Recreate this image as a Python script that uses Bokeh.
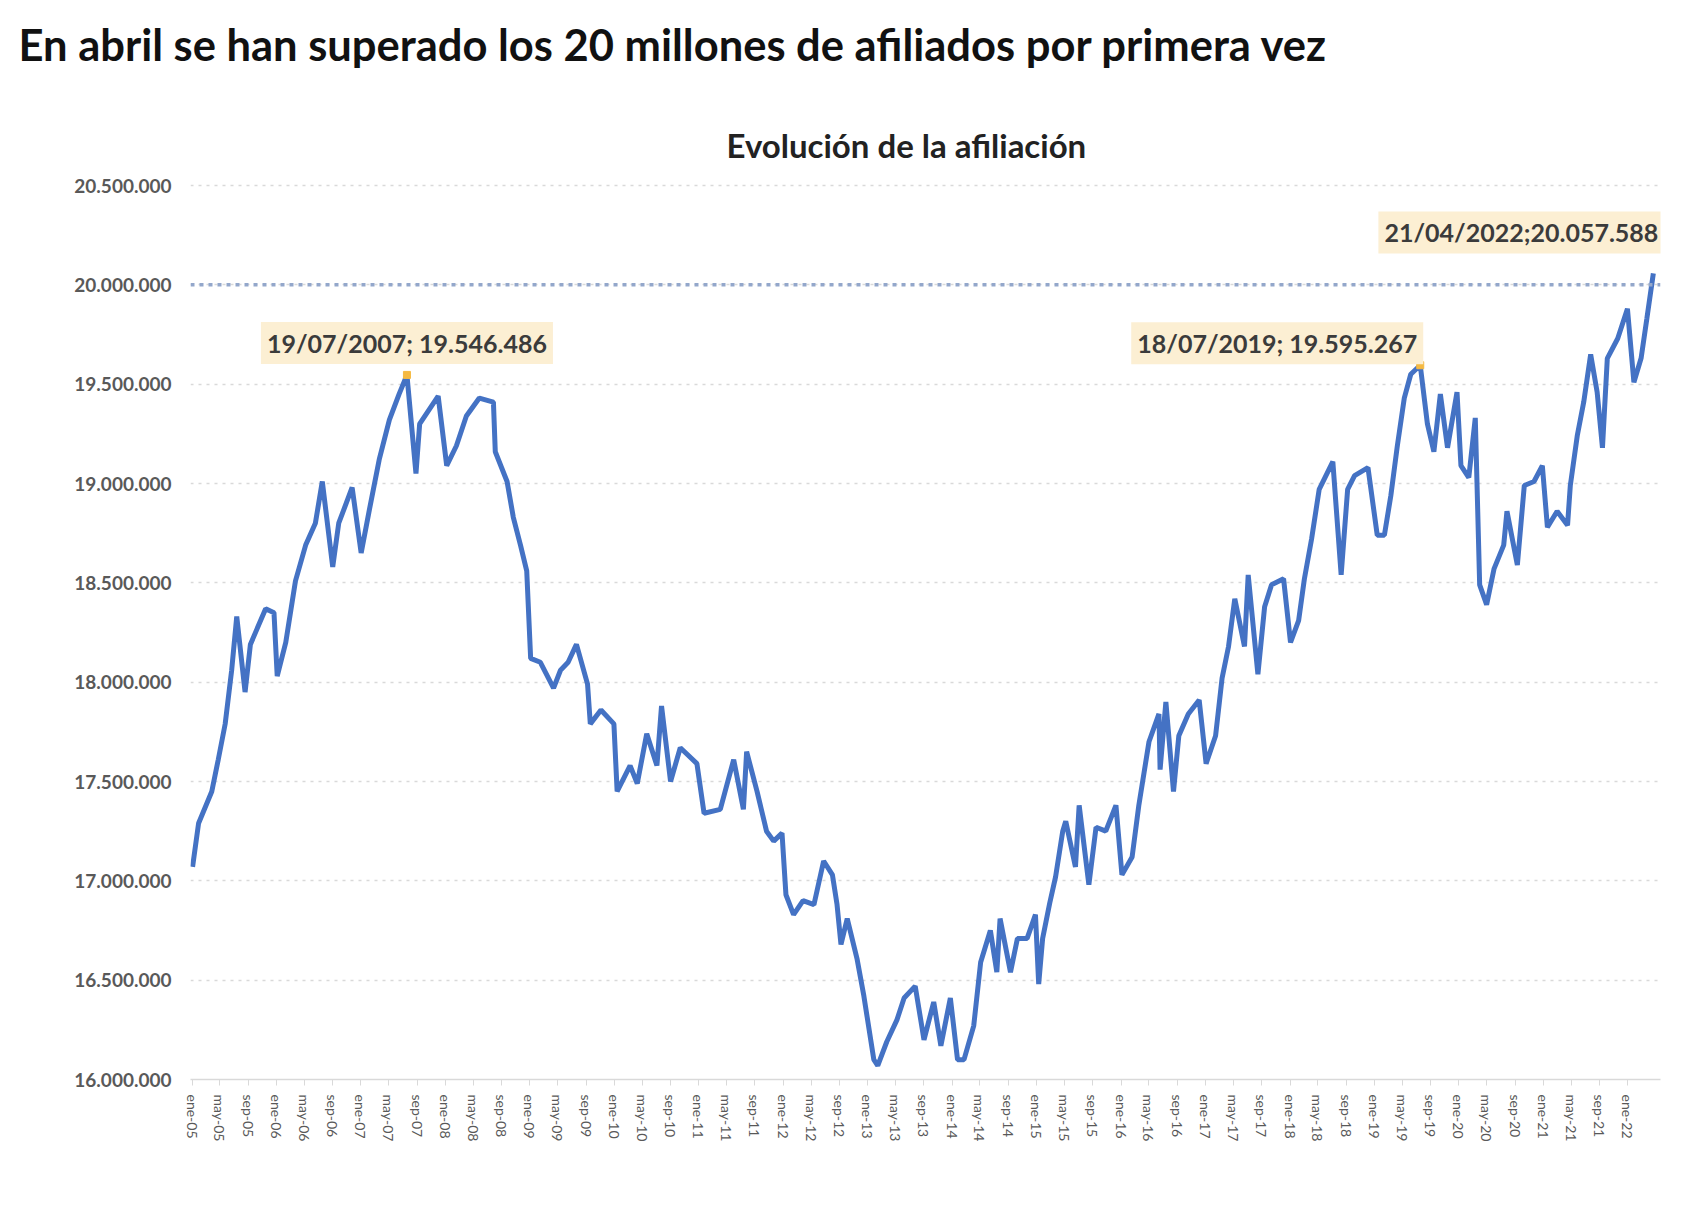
import pandas as pd
from bokeh.plotting import figure
from bokeh.models import FixedTicker, Label, Span, Range1d
from bokeh.embed import file_html
from bokeh.resources import INLINE

# ---------------- data ----------------
fechas = [
    "2005-01-03", "2005-01-29", "2005-03-27", "2005-04-24", "2005-05-24", "2005-06-21", "2005-07-13",
    "2005-08-18", "2005-09-10", "2005-11-15", "2005-12-21", "2006-01-04", "2006-02-10", "2006-03-24",
    "2006-05-07", "2006-06-18", "2006-07-18", "2006-09-01", "2006-09-27", "2006-11-24", "2007-01-02",
    "2007-02-07", "2007-03-21", "2007-05-04", "2007-06-15", "2007-07-19", "2007-08-27", "2007-09-12",
    "2007-12-01", "2008-01-07", "2008-02-18", "2008-04-01", "2008-05-27", "2008-07-27", "2008-08-04",
    "2008-09-24", "2008-10-21", "2008-11-21", "2008-12-18", "2009-01-04", "2009-02-15", "2009-04-13",
    "2009-05-13", "2009-06-15", "2009-07-21", "2009-09-07", "2009-09-19", "2009-11-04", "2009-12-30",
    "2010-01-13", "2010-03-10", "2010-04-10", "2010-05-21", "2010-07-04", "2010-07-24", "2010-09-01",
    "2010-10-13", "2010-12-24", "2011-01-24", "2011-04-04", "2011-06-01", "2011-07-13", "2011-07-27",
    "2011-09-10", "2011-10-21", "2011-11-21", "2011-12-27", "2012-01-13", "2012-02-15", "2012-03-27",
    "2012-05-13", "2012-06-24", "2012-08-01", "2012-08-21", "2012-09-07", "2012-10-04", "2012-11-15",
    "2012-12-15", "2013-01-27", "2013-02-13", "2013-03-24", "2013-05-07", "2013-06-07", "2013-07-25",
    "2013-09-01", "2013-10-13", "2013-11-13", "2013-12-24", "2014-01-24", "2014-02-21", "2014-04-04",
    "2014-05-04", "2014-06-15", "2014-07-13", "2014-07-27", "2014-09-10", "2014-10-10", "2014-11-21",
    "2014-12-27", "2015-01-10", "2015-01-27", "2015-02-27", "2015-03-24", "2015-04-24", "2015-05-07",
    "2015-06-18", "2015-07-04", "2015-08-15", "2015-09-15", "2015-10-27", "2015-12-10", "2016-01-05",
    "2016-02-18", "2016-03-18", "2016-05-01", "2016-06-13", "2016-06-18", "2016-07-13", "2016-08-15",
    "2016-09-07", "2016-10-18", "2016-12-04", "2017-01-03", "2017-02-13", "2017-03-13", "2017-04-10",
    "2017-05-07", "2017-06-18", "2017-07-04", "2017-08-15", "2017-09-13", "2017-10-13", "2017-12-04",
    "2018-01-03", "2018-02-07", "2018-03-04", "2018-04-04", "2018-05-07", "2018-07-05", "2018-08-10",
    "2018-09-07", "2018-10-07", "2018-12-04", "2019-01-13", "2019-02-13", "2019-03-13", "2019-04-10",
    "2019-05-10", "2019-06-07", "2019-07-18", "2019-08-18", "2019-09-15", "2019-10-13", "2019-11-13",
    "2019-12-24", "2020-01-10", "2020-02-13", "2020-03-12", "2020-03-31", "2020-04-30", "2020-06-01",
    "2020-07-13", "2020-07-27", "2020-09-10", "2020-10-10", "2020-11-21", "2020-12-27", "2021-01-18",
    "2021-03-01", "2021-04-15", "2021-04-27", "2021-05-27", "2021-06-24", "2021-07-24", "2021-08-21",
    "2021-09-13", "2021-10-04", "2021-11-18", "2021-12-30", "2022-01-27", "2022-02-27", "2022-03-24",
    "2022-04-21",
]

afiliados = [
    17070000, 17290000, 17450000, 17610000, 17790000, 18060000, 18330000,
    17950000, 18190000, 18370000, 18350000, 18030000, 18200000, 18510000,
    18690000, 18800000, 19010000, 18580000, 18800000, 18980000, 18650000,
    18870000, 19120000, 19320000, 19450000, 19546486, 19050000, 19300000,
    19440000, 19090000, 19190000, 19340000, 19430000, 19410000, 19160000,
    19010000, 18830000, 18690000, 18560000, 18120000, 18100000, 17970000,
    18060000, 18100000, 18190000, 17990000, 17790000, 17860000, 17790000,
    17450000, 17580000, 17490000, 17740000, 17580000, 17880000, 17500000,
    17670000, 17590000, 17340000, 17360000, 17610000, 17360000, 17650000,
    17450000, 17250000, 17200000, 17240000, 16930000, 16830000, 16900000,
    16880000, 17100000, 17030000, 16880000, 16680000, 16810000, 16610000,
    16420000, 16100000, 16070000, 16190000, 16300000, 16410000, 16470000,
    16200000, 16390000, 16170000, 16410000, 16100000, 16100000, 16270000,
    16590000, 16750000, 16540000, 16810000, 16540000, 16710000, 16710000,
    16830000, 16480000, 16710000, 16890000, 17020000, 17250000, 17300000,
    17070000, 17380000, 16980000, 17270000, 17250000, 17380000, 17030000,
    17120000, 17380000, 17700000, 17840000, 17560000, 17900000, 17450000,
    17730000, 17840000, 17910000, 17590000, 17730000, 18020000, 18180000,
    18420000, 18180000, 18540000, 18040000, 18380000, 18490000, 18520000,
    18200000, 18310000, 18520000, 18720000, 18970000, 19110000, 18540000,
    18970000, 19040000, 19080000, 18740000, 18740000, 18940000, 19190000,
    19430000, 19550000, 19595267, 19300000, 19160000, 19450000, 19180000,
    19460000, 19090000, 19030000, 19330000, 18490000, 18390000, 18570000,
    18690000, 18860000, 18590000, 18990000, 19010000, 19090000, 18780000,
    18860000, 18790000, 18990000, 19240000, 19410000, 19650000, 19460000,
    19180000, 19630000, 19730000, 19880000, 19510000, 19630000, 19830000,
    20057588,
]

pico_fechas = ["2007-07-19", "2019-07-18", "2022-04-21"]
pico_valores = [19546486, 19595267, 20057588]
pico_textos = ["19/07/2007; 19.546.486", "18/07/2019; 19.595.267", "21/04/2022;20.057.588"]

y_ticks = [16000000, 16500000, 17000000, 17500000, 18000000, 18500000,
           19000000, 19500000, 20000000, 20500000]
y_labels = ["16.000.000", "16.500.000", "17.000.000", "17.500.000", "18.000.000",
            "18.500.000", "19.000.000", "19.500.000", "20.000.000", "20.500.000"]

x_labels = [
    "ene-05", "may-05", "sep-05", "ene-06", "may-06", "sep-06", "ene-07", "may-07", "sep-07",
    "ene-08", "may-08", "sep-08", "ene-09", "may-09", "sep-09", "ene-10", "may-10", "sep-10",
    "ene-11", "may-11", "sep-11", "ene-12", "may-12", "sep-12", "ene-13", "may-13", "sep-13",
    "ene-14", "may-14", "sep-14", "ene-15", "may-15", "sep-15", "ene-16", "may-16", "sep-16",
    "ene-17", "may-17", "sep-17", "ene-18", "may-18", "sep-18", "ene-19", "may-19", "sep-19",
    "ene-20", "may-20", "sep-20", "ene-21", "may-21", "sep-21", "ene-22",
]

titulo = "En abril se han superado los 20 millones de afiliados por primera vez"
subtitulo = "Evolución de la afiliación"


def to_ms(dates):
    return [int((pd.Timestamp(d) - pd.Timestamp("1970-01-01")) // pd.Timedelta("1ms")) for d in dates]


meses = {"ene": 1, "may": 5, "sep": 9}
x_tick_dates = ["20%s-%02d-01" % (lab[4:], meses[lab[:3]]) for lab in x_labels]
x_ticks = to_ms(x_tick_dates)
xs = to_ms(fechas)
pico_xs = to_ms(pico_fechas)

# ---------------- layout geometry (pixels) ----------------
FONT = "Lato"
W, H = 1706, 1218
FRAME_L, FRAME_R, FRAME_T, FRAME_B = 190, 1660, 85, 1079
GRID_TOP_PX = 185                # where 20.500.000 sits
Y_MIN, Y_GRID_MAX = 16000000, 20500000
y_per_px = (Y_GRID_MAX - Y_MIN) / (FRAME_B - GRID_TOP_PX)
Y_MAX = Y_MIN + (FRAME_B - FRAME_T) * y_per_px

x_start = to_ms(["2004-12-25"])[0]
x_end = to_ms(["2022-05-22"])[0]


def x_at(px):
    return x_start + (px - FRAME_L) / (FRAME_R - FRAME_L) * (x_end - x_start)


def y_at(py):
    return Y_MIN + (FRAME_B - py) * y_per_px


p = figure(width=W, height=H, output_backend="svg", toolbar_location=None,
           x_range=Range1d(x_start, x_end), y_range=Range1d(Y_MIN, Y_MAX),
           min_border_left=FRAME_L, min_border_right=W - FRAME_R,
           min_border_top=FRAME_T, min_border_bottom=H - FRAME_B)
p.outline_line_color = None
p.background_fill_color = "white"
p.border_fill_color = "white"

# main title
p.title.text = titulo
p.title.align = "left"
p.title.offset = -(FRAME_L - 18)
p.title.standoff = 31
p.title.text_font = FONT
p.title.text_font_style = "bold"
p.title.text_font_size = "43.5px"
p.title.text_color = "#111111"

# axes
p.xaxis.ticker = FixedTicker(ticks=x_ticks)
p.xaxis.major_label_overrides = {t: lab for t, lab in zip(x_ticks, x_labels)}
p.xaxis.major_label_orientation = "vertical"
p.xaxis.axis_line_color = "#D9D9D9"
p.xaxis.axis_line_width = 1.5
p.xaxis.major_tick_line_color = "#D9D9D9"
p.xaxis.major_tick_out = 6
p.xaxis.major_tick_in = 0
p.xaxis.minor_tick_line_color = None
p.xaxis.major_label_text_font = FONT
p.xaxis.major_label_text_font_size = "14px"
p.xaxis.major_label_text_color = "#595959"
p.xaxis.major_label_standoff = 9

p.yaxis.ticker = FixedTicker(ticks=y_ticks)
p.yaxis.major_label_overrides = {t: lab for t, lab in zip(y_ticks, y_labels)}
p.yaxis.axis_line_color = None
p.yaxis.major_tick_line_color = None
p.yaxis.minor_tick_line_color = None
p.yaxis.major_label_text_font = FONT
p.yaxis.major_label_text_font_size = "19px"
p.yaxis.major_label_text_font_style = "bold"
p.yaxis.major_label_text_color = "#595959"
p.yaxis.major_label_standoff = 13

p.xgrid.grid_line_color = None
p.ygrid.grid_line_color = "#D9D9D9"
p.ygrid.grid_line_width = 1.5
p.ygrid.grid_line_dash = "3 5"

# subtitle (inside the upper, empty part of the frame)
p.add_layout(Label(x=x_at(726), y=y_at(144), text=subtitulo, text_align="left",
                   text_baseline="middle", text_font=FONT, text_font_style="bold",
                   text_font_size="33px", text_color="#222222"))

# 20 million reference line
p.add_layout(Span(location=20000000, dimension="width", line_color="#93A7CB",
                  line_width=3.5, line_dash="4 5"))

# series
p.line(xs, afiliados, line_color="#4472C4", line_width=5)
p.scatter(pico_xs[:2], pico_valores[:2], marker="square", size=7, color="#F5B942")

# peak labels
offsets = [(0, 32, "center"), (3, 22, "right"), (11, 41, "right")]
for px, pv, txt, (dx, dy, al) in zip(pico_xs, pico_valores, pico_textos, offsets):
    p.add_layout(Label(x=px, y=pv, x_offset=dx, y_offset=dy, text=txt,
                       text_align=al, text_baseline="middle",
                       text_font=FONT, text_font_style="bold", text_font_size="25px",
                       text_color="#3B3B3B", background_fill_color="#FCEFD3",
                       padding=6))

open("out.html", "w").write(file_html(p, INLINE))
